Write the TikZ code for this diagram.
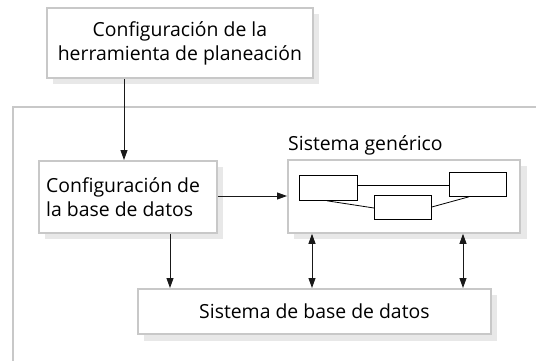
\documentclass[tikz,border=0pt]{standalone}
\usepackage{fontspec}
\setmainfont{Open Sans}
\usetikzlibrary{arrows.meta}
\definecolor{bordergray}{HTML}{C8C8C8}
\definecolor{shadowgray}{HTML}{E8E8E8}
\tikzset{
  box/.style={draw=bordergray, line width=1.8pt, fill=white},
  tiny/.style={draw=black, line width=0.8pt, fill=white},
  arr/.style={-{Triangle[length=10pt,width=7pt]}, line width=0.9pt, draw=black!90},
  darr/.style={{Triangle[length=10pt,width=7pt]}-{Triangle[length=10pt,width=7pt]}, line width=0.9pt, draw=black!90},
  lbl/.style={font=\fontsize{19.4}{24}\selectfont, text=black, align=center}
}
\begin{document}
\begin{tikzpicture}[x=1pt,y=-1pt]
\useasboundingbox (0,0) rectangle (536,361);
% outer frame (left and top only)
\draw[draw=bordergray, line width=2.2pt] (13,361) -- (13,107) -- (536,107);
% shadows
\fill[shadowgray] (53,14) rectangle (319,84);
\fill[shadowgray] (45,167) rectangle (223,239);
\fill[shadowgray] (294,166) rectangle (527,239);
\fill[shadowgray] (144,295) rectangle (497,341);
% boxes
\node[box, minimum width=266pt, minimum height=70pt, anchor=north west] (top) at (46,7) {};
\node[lbl] at (top.center) {Configuración de la\\herramienta de planeación};
\node[box, minimum width=178pt, minimum height=72pt, anchor=north west] (cfg) at (38,160) {};
\node[lbl, align=left, anchor=west, inner sep=0pt] at ([xshift=8pt]cfg.west) {Configuración de\\la base de datos};
\node[box, minimum width=232pt, minimum height=73pt, anchor=north west] (gen) at (287,159) {};
\node[lbl, anchor=base west, inner sep=0pt] (genlbl) at (288,150) {Sistema genérico};
\node[box, minimum width=353pt, minimum height=45pt, anchor=north west] (db) at (137,288) {};
\node[lbl] at (db.center) {Sistema de base de datos};
% inner tiny boxes
\node[tiny, minimum width=58pt, minimum height=25pt, anchor=north west] (b1) at (299,175) {};
\node[tiny, minimum width=57pt, minimum height=24pt, anchor=north west] (b2) at (449,172) {};
\node[tiny, minimum width=57pt, minimum height=24pt, anchor=north west] (b3) at (374,195) {};
\draw[line width=0.8pt] (b1.east |- 0,185) -- (b2.west |- 0,185);
\draw[line width=0.8pt] (b1.south -| 327,0) -- (b3.west |- 0,208);
\draw[line width=0.8pt] (b3.east |- 0,207) -- (b2.south -| 469,0);
% arrows
\draw[arr] (top.south -| 124,0) -- (cfg.north -| 124,0);
\draw[arr] (cfg.east |- 0,196) -- (gen.west |- 0,196);
\draw[arr] (cfg.south -| 170,0) -- (db.north -| 170,0);
\draw[darr] (gen.south -| 312,0) -- (db.north -| 312,0);
\draw[darr] (gen.south -| 463,0) -- (db.north -| 463,0);
\end{tikzpicture}
\end{document}
